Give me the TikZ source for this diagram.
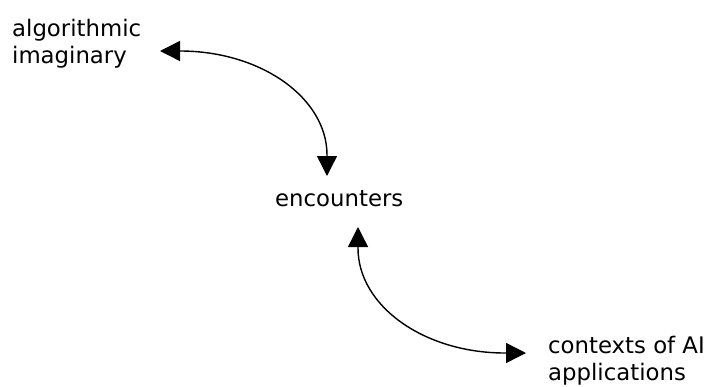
\documentclass[tikz,border=0pt]{standalone}
\usepackage{fontspec}
\setmainfont{DejaVu Sans}
\usetikzlibrary{arrows.meta}
\begin{document}
\begin{tikzpicture}[x=1pt,y=-1pt,
  label text/.style={inner sep=0pt, anchor=base west, align=left,
    font=\fontsize{22.8pt}{27pt}\selectfont},
  link/.style={line width=1.4pt, {Triangle[length=20pt,width=20pt]}-{Triangle[length=20pt,width=20pt]}}]
\useasboundingbox (0,0) rectangle (710,386);
% multi-line labels are placed by the baseline of their last line
\node[label text] (alg) at (12,63) {algorithmic\\imaginary};
\node[label text] (enc) at (275,206) {encounters};
\node[label text] (ctx) at (548,380) {contexts of AI\\applications};
% arrow end points beside the labels
\coordinate (algtip) at (160,51);
\coordinate (enctop) at (327,176);
\coordinate (encbot) at (358,227);
\coordinate (ctxtip) at (526,353);
\draw[link] (algtip) -- ++(20,0) .. controls ++(81,0) and (327,98) .. (327,155) -- (enctop);
\draw[link] (encbot) -- ++(0,21) .. controls (358,306) and (424,353) .. (505,353) -- (ctxtip);
\end{tikzpicture}
\end{document}
